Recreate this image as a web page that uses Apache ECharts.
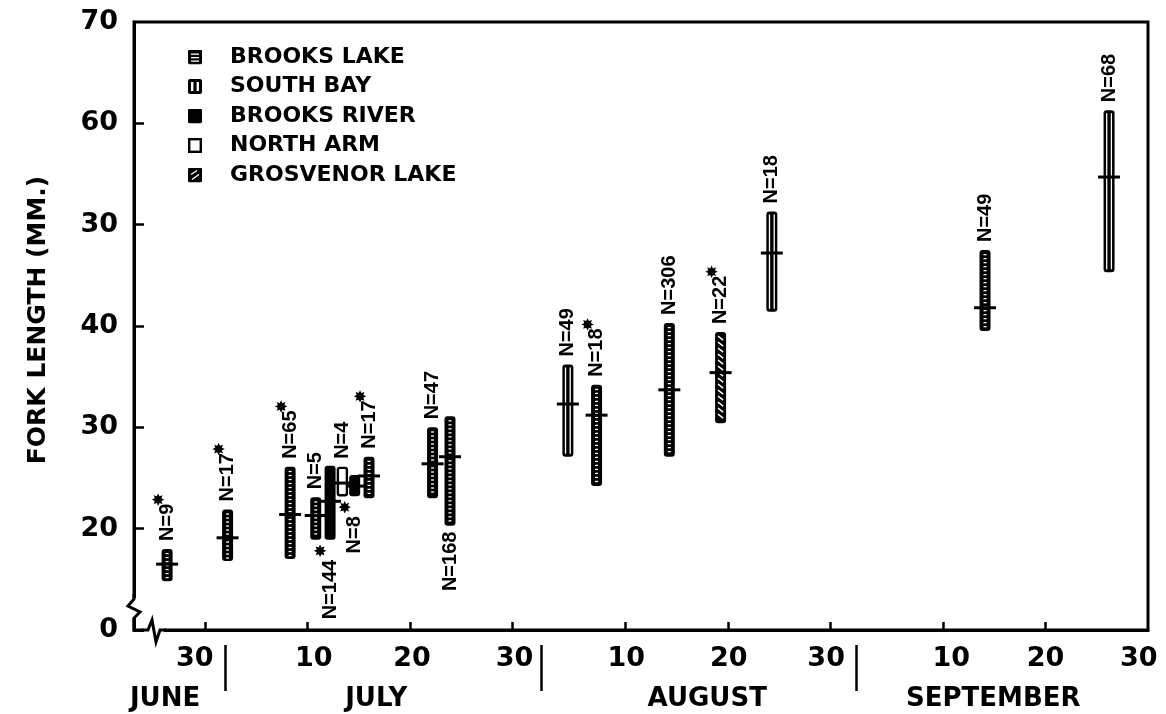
<!DOCTYPE html>
<html>
<head>
<meta charset="utf-8">
<title>Fork length of sockeye fry</title>
<script src="https://cdn.jsdelivr.net/npm/echarts@6/dist/echarts.min.js"></script>
<style>
  html, body { margin: 0; padding: 0; background: #fff; }
  #chart { width: 1166px; height: 714px; }
</style>
</head>
<body>
<div id="chart"></div>
<script>
// ---- x axis: day counted from 31 May (30 = June 30, 40 = July 10, 71 = Aug 10 ...) ----
const DAY_TICKS = [30, 40, 50, 60, 71, 81, 91, 102, 112];
const DAY_LABEL_AT = [29.0, 40.6, 50.2, 60.2, 71.1, 81.1, 90.6, 102.8, 112.0, 121.1];
const DAY_LABELS = ['30', '10', '20', '30', '10', '20', '30', '10', '20', '30'];
const MONTH_DIVIDERS = [31.95, 62.8, 93.5];
const MONTH_CENTERS = [26.1, 46.7, 79.0, 106.9];
const MONTH_NAMES = ['JUNE', 'JULY', 'AUGUST', 'SEPTEMBER'];

// ---- y axis (broken below 20 mm) ----
const Y_TICKS = [10, 20, 30, 40, 50, 60, 70];
const Y_TICK_LABELS = ['0', '20', '30', '40', '30', '60', '70'];

// ---- sampling locations ----
const SITES = ['BROOKS LAKE', 'SOUTH BAY', 'BROOKS RIVER', 'NORTH ARM', 'GROSVENOR LAKE'];

// ---- samples: date, range and mean fork length (mm), sample size ----
const sampleDay  = [26.3, 32.2, 38.3, 40.8, 42.2, 43.4, 44.6, 46.0, 52.2, 53.9, 65.4, 68.2, 75.3, 80.3, 85.3, 106.1, 118.2];
const sampleMin  = [14.8, 16.8, 17.0, 18.9, 18.9, 23.2, 23.2, 23.0, 23.0, 20.3, 27.1, 24.2, 27.1, 30.4, 41.4, 39.5, 45.3];
const sampleMax  = [18.0, 21.9, 26.1, 23.1, 26.2, 26.1, 25.3, 27.1, 30.0, 31.1, 36.2, 34.2, 40.3, 39.4, 51.3, 47.5, 61.3];
const sampleMean = [16.5, 19.1, 21.4, 21.3, 22.7, 24.5, 24.2, 25.2, 26.4, 27.1, 32.3, 31.2, 33.7, 35.4, 47.2, 41.8, 54.7];
const sampleN    = [9, 17, 65, 5, 144, 4, 8, 17, 47, 168, 49, 18, 306, 22, 18, 49, 68];
const sampleSite = [0, 0, 0, 0, 2, 3, 2, 0, 0, 0, 1, 0, 0, 4, 1, 0, 1];
const labelBelow = [0, 0, 0, 0, 1, 0, 1, 0, 0, 1, 0, 0, 0, 0, 0, 0, 0];
const starred    = [1, 1, 1, 0, 1, 0, 1, 1, 0, 0, 0, 1, 0, 1, 0, 0, 0];

const X_MIN = 23.07, X_MAX = 122.0;
const FONT = '"DejaVu Sans", "Liberation Sans", sans-serif';
const LABEL_FONT = 'bold 20px "Liberation Sans"';

const measureCtx = document.createElement('canvas').getContext('2d');
function textWidth(str, font) {
  measureCtx.font = font;
  return measureCtx.measureText(str).width;
}

// Heavy eight-point asterisk used as a footnote mark.
function starShape(x, y) {
  const pts = [];
  for (let k = 0; k < 16; k++) {
    const a = k * Math.PI / 8 - Math.PI / 2;
    const r = k % 2 ? 3.6 : 6.2;
    pts.push([x + r * Math.cos(a), y + r * Math.sin(a)]);
  }
  return { type: 'polygon', shape: { points: pts }, style: { fill: '#000' } };
}

// Fill pattern of each location, drawn inside a bar.
const PATTERNS = ['lake', 'south', 'river', 'north', 'grosvenor'];

function patternMarks(kind, cx, y0, y1) {
  const out = [];
  if (kind === 'lake') {
    for (let y = y0 + 4; y < y1 - 3; y += 4) {
      out.push({ type: 'rect', shape: { x: cx - 1.5, y: y, width: 3, height: 1.3 }, style: { fill: '#fff' } });
    }
  } else if (kind === 'south') {
    const hh = Math.max(0, y1 - y0 - 6);
    out.push({ type: 'rect', shape: { x: cx - 3, y: y0 + 3, width: 1.3, height: hh }, style: { fill: '#fff' } });
    out.push({ type: 'rect', shape: { x: cx + 1.7, y: y0 + 3, width: 1.3, height: hh }, style: { fill: '#fff' } });
  } else if (kind === 'grosvenor') {
    for (let y = y0 + 6; y < y1 - 4; y += 6) {
      out.push({ type: 'line', shape: { x1: cx - 2.6, y1: y - 2, x2: cx + 2.6, y2: y + 2 }, style: { stroke: '#fff', lineWidth: 1.4 } });
    }
  }
  return out;
}

function makeRenderItem(kind) {
  return function (params, api) {
    const day = api.value(0), lo = api.value(1), hi = api.value(2), mean = api.value(3);
    const n = api.value(4), below = api.value(5), star = api.value(6);
    const top = api.coord([day, hi]);
    const bot = api.coord([day, lo]);
    const mid = api.coord([day, mean]);
    const cx = top[0];
    const w = 11;
    const h = bot[1] - top[1];
    const children = [];

    if (kind === 'north') {
      children.push({ type: 'rect', shape: { x: cx - w / 2 + 1, y: top[1] + 1, width: w - 2, height: h - 2, r: 2 },
        style: { fill: '#fff', stroke: '#000', lineWidth: 2.4 } });
    } else {
      children.push({ type: 'rect', shape: { x: cx - w / 2, y: top[1], width: w, height: h, r: 3 },
        style: { fill: '#000' } });
    }
    patternMarks(kind, cx, top[1], bot[1]).forEach(c => children.push(c));

    // mean
    children.push({ type: 'line', shape: { x1: cx - 11, y1: mid[1], x2: cx + 11, y2: mid[1] },
      style: { stroke: '#000', lineWidth: 3 } });

    // sample size, written upward along the bar; the star sits after it as a superscript
    const txt = 'N=' + n;
    const tw = textWidth(txt, LABEL_FONT);
    if (below) {
      const start = bot[1] + (star ? 20 : 6);
      children.push({ type: 'text', x: cx, y: start, rotation: Math.PI / 2,
        style: { text: txt, font: LABEL_FONT, fill: '#000', align: 'right', verticalAlign: 'middle' } });
      if (star) children.push(starShape(cx - 10, bot[1] + 11));
    } else {
      const start = top[1] - 8;
      children.push({ type: 'text', x: cx, y: start, rotation: Math.PI / 2,
        style: { text: txt, font: LABEL_FONT, fill: '#000', align: 'left', verticalAlign: 'middle' } });
      if (star) children.push(starShape(cx - 9, start - tw - 4));
    }
    return { type: 'group', children: children };
  };
}

function legendIcon(kind) {
  let body = '';
  if (kind === 'north') {
    body = "<rect x='1.2' y='1.2' width='11.6' height='12.6' fill='white' stroke='black' stroke-width='2.4'/>";
  } else {
    body = "<rect x='0' y='0' width='14' height='15' rx='2' fill='black'/>";
    if (kind === 'lake') {
      body += "<rect x='3' y='4' width='8' height='1.3' fill='white'/><rect x='3' y='7.5' width='8' height='1.3' fill='white'/><rect x='3' y='11' width='8' height='1.3' fill='white'/>";
    } else if (kind === 'south') {
      body += "<rect x='3' y='3' width='2.4' height='9' fill='white'/><rect x='8.6' y='3' width='2.4' height='9' fill='white'/>";
    } else if (kind === 'grosvenor') {
      body += "<line x1='3' y1='7' x2='9' y2='3' stroke='white' stroke-width='1.4'/><line x1='4' y1='12' x2='11' y2='7' stroke='white' stroke-width='1.4'/>";
    }
  }
  const svg = "<svg xmlns='http://www.w3.org/2000/svg' width='37' height='15' viewBox='0 0 37 15'>" + body + "</svg>";
  return 'image://data:image/svg+xml;utf8,' + encodeURIComponent(svg);
}

const series = SITES.map((name, s) => {
  const data = [];
  sampleDay.forEach((d, i) => {
    if (sampleSite[i] === s) {
      data.push([d, sampleMin[i], sampleMax[i], sampleMean[i], sampleN[i], labelBelow[i], starred[i]]);
    }
  });
  return {
    name: name,
    type: 'custom',
    xAxisIndex: 0,
    yAxisIndex: 0,
    clip: false,
    renderItem: makeRenderItem(PATTERNS[s]),
    encode: { x: 0, y: [1, 2] },
    data: data
  };
});

const chart = echarts.init(document.getElementById('chart'), null, { renderer: 'canvas' });

const tickLabelStyle = { color: '#000', fontFamily: FONT, fontWeight: 'bold', fontSize: 27 };

const option = {
  backgroundColor: '#fff',
  animation: false,
  grid: { left: 134, right: 18, top: 22, bottom: 84, show: true, borderColor: '#000', borderWidth: 3 },
  legend: {
    orient: 'vertical',
    left: 183,
    top: 41,
    padding: 5,
    itemWidth: 37,
    itemHeight: 15,
    itemGap: 7.5,
    selectedMode: false,
    textStyle: { color: '#000', fontFamily: FONT, fontWeight: 'bold', fontSize: 22, lineHeight: 22 },
    data: SITES.map((name, s) => ({ name: name, icon: legendIcon(PATTERNS[s]) }))
  },
  xAxis: [
    {
      type: 'value',
      min: X_MIN,
      max: X_MAX,
      position: 'bottom',
      splitLine: { show: false },
      axisLine: { show: true, onZero: false, lineStyle: { color: '#000', width: 3 } },
      axisTick: { show: true, inside: true, length: 8, customValues: DAY_TICKS, lineStyle: { color: '#000', width: 2.5 } },
      axisLabel: Object.assign({
        show: true,
        customValues: DAY_LABEL_AT,
        margin: 15,
        formatter: v => {
          const i = DAY_LABEL_AT.indexOf(v);
          return i >= 0 ? DAY_LABELS[i] : '';
        }
      }, tickLabelStyle)
    },
    {
      type: 'value',
      min: X_MIN,
      max: X_MAX,
      position: 'bottom',
      offset: 15,
      splitLine: { show: false },
      axisLine: { show: false },
      axisTick: { show: true, inside: false, length: 46, customValues: MONTH_DIVIDERS, lineStyle: { color: '#000', width: 2.5 } },
      axisLabel: {
        show: true,
        customValues: MONTH_CENTERS,
        margin: 41,
        color: '#000',
        fontFamily: FONT,
        fontWeight: 'bold',
        fontSize: 26,
        formatter: v => {
          const i = MONTH_CENTERS.indexOf(v);
          return i >= 0 ? MONTH_NAMES[i] : '';
        }
      }
    }
  ],
  yAxis: {
    type: 'value',
    min: 10,
    max: 70,
    interval: 10,
    name: 'FORK LENGTH (MM.)',
    nameLocation: 'middle',
    nameGap: 83,
    nameRotate: 90,
    nameTextStyle: { color: '#000', fontFamily: FONT, fontWeight: 'bold', fontSize: 25, padding: [0, 0, 0, 12] },
    splitLine: { show: false },
    axisLine: { show: true, onZero: false, lineStyle: { color: '#000', width: 3 } },
    axisTick: { show: true, inside: true, length: 10, customValues: Y_TICKS.slice(1, 6), lineStyle: { color: '#000', width: 2.5 } },
    axisLabel: Object.assign({
      customValues: Y_TICKS,
      margin: 16,
      formatter: v => {
        const i = Y_TICKS.indexOf(v);
        return i >= 0 ? Y_TICK_LABELS[i] : '';
      }
    }, tickLabelStyle)
  },
  series: series
};

chart.setOption(option);

// broken-axis marks at the origin corner
const corner = chart.convertToPixel({ gridIndex: 0 }, [X_MIN, 10]);
const ox = corner[0], oy = corner[1];
chart.setOption({
  graphic: [
    { type: 'rect', shape: { x: ox - 8, y: oy - 32, width: 16, height: 20 }, style: { fill: '#fff' }, z: 100 },
    { type: 'polyline', shape: { points: [[ox, oy - 36], [ox, oy - 31], [ox - 6, oy - 24], [ox + 6, oy - 18], [ox, oy - 12], [ox, oy]] },
      style: { stroke: '#000', lineWidth: 3, fill: null }, z: 101 },
    { type: 'rect', shape: { x: ox + 10, y: oy - 3, width: 20, height: 6 }, style: { fill: '#fff' }, z: 100 },
    { type: 'polyline', shape: { points: [[ox + 8, oy], [ox + 14, oy], [ox + 18, oy - 10], [ox + 22, oy + 12], [ox + 26, oy], [ox + 32, oy]] },
      style: { stroke: '#000', lineWidth: 3, fill: null }, z: 101 }
  ]
});
</script>
</body>
</html>
